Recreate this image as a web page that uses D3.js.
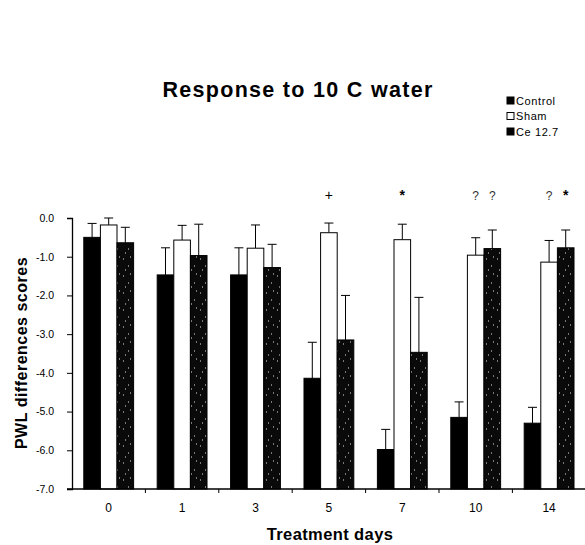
<!DOCTYPE html>
<meta charset="utf-8">
<script src="https://d3js.org/d3.v7.min.js"></script>
<style>
  body { margin: 0; background: #fff; }
  svg { font-family: "Liberation Sans", Arial, sans-serif; }
</style>
<body>
<div id="chart"></div>
<script>
// values
var days = ["0", "1", "3", "5", "7", "10", "14"];
var series = ["Control", "Sham", "Ce 12.7"];
var control = [-0.5, -1.47, -1.47, -4.14, -5.98, -5.15, -5.3];
var controlErr = [0.36, 0.7, 0.7, 0.93, 0.52, 0.4, 0.41];
var sham = [-0.18, -0.57, -0.78, -0.38, -0.56, -0.96, -1.14];
var shamErr = [0.18, 0.38, 0.6, 0.25, 0.4, 0.45, 0.56];
var ce = [-0.64, -0.97, -1.28, -3.15, -3.47, -0.79, -0.77];
var ceErr = [0.4, 0.81, 0.6, 1.15, 1.42, 0.48, 0.46];
var yTicks = [0, -1, -2, -3, -4, -5, -6, -7];
// significance marks: [day index, series index, symbol]
var marks = [[3, 1, "+"], [4, 1, "*"], [5, 1, "?"], [5, 2, "?"], [6, 1, "?"], [6, 2, "*"]];

var width = 585, height = 545;
var svg = d3.select("#chart").append("svg")
    .attr("width", width)
    .attr("height", height);

// sparse speckled fill for the Ce bars
var pat = svg.append("defs").append("pattern")
    .attr("id", "speckle")
    .attr("patternUnits", "userSpaceOnUse")
    .attr("width", 11).attr("height", 17);
pat.append("rect").attr("width", 11).attr("height", 17).attr("fill", "#0a0a0a");
[[2, 3], [7, 10], [4, 14], [9, 1]].forEach(function(p) {
  pat.append("rect").attr("x", p[0]).attr("y", p[1])
      .attr("width", 1).attr("height", 2)
      .attr("fill", "#fff").attr("opacity", 0.45);
});

var x = d3.scaleBand().domain(days).range([72, 585.8]).padding(0);
var xs = d3.scaleBand().domain(series).range([0, x.bandwidth()]).paddingInner(0).paddingOuter(0.71);
var y = d3.scaleLinear().domain([-7, 0]).range([489, 218]);

var fills = ["#000", "#fff", "url(#speckle)"];
var vals = [control, sham, ce];
var errs = [controlErr, shamErr, ceErr];

var rows = [];
days.forEach(function(d, i) {
  series.forEach(function(s, j) {
    rows.push({day: d, s: s, j: j, v: vals[j][i], e: errs[j][i]});
  });
});

// error bars (cap only above the bar)
var eb = svg.append("g").attr("stroke", "#000").attr("stroke-width", 1);
rows.forEach(function(r) {
  var cx = x(r.day) + xs(r.s) + xs.bandwidth() / 2;
  eb.append("line").attr("x1", cx).attr("x2", cx)
      .attr("y1", y(r.v)).attr("y2", y(r.v + r.e));
  eb.append("line").attr("x1", cx - 4.5).attr("x2", cx + 4.5)
      .attr("y1", y(r.v + r.e)).attr("y2", y(r.v + r.e));
});

// bars
svg.append("g").selectAll("rect")
  .data(rows)
  .join("rect")
    .attr("x", function(d) { return x(d.day) + xs(d.s); })
    .attr("width", xs.bandwidth())
    .attr("y", function(d) { return y(d.v); })
    .attr("height", function(d) { return y(-7) - y(d.v); })
    .attr("fill", function(d) { return fills[d.j]; })
    .attr("stroke", "#000")
    .attr("stroke-width", 1);

// y axis (plain hyphen minus like the original)
var yAxis = svg.append("g")
    .attr("transform", "translate(72,0)")
    .call(d3.axisLeft(y).tickValues(yTicks).tickSize(5).tickPadding(13)
      .tickFormat(function(d) { return d.toFixed(1); }));
yAxis.select(".domain").attr("stroke", "#000").attr("stroke-width", 1.3);
yAxis.selectAll("text").attr("font-size", 10.5).attr("fill", "#000");

// x axis: boundary ticks
var xAxis = svg.append("g").attr("transform", "translate(0,489)");
xAxis.append("line").attr("x1", 67).attr("x2", 585).attr("stroke", "#000").attr("stroke-width", 1.3);
xAxis.selectAll("line.tk")
  .data(days.slice(1))
  .join("line")
    .attr("class", "tk")
    .attr("x1", function(d) { return x(d); })
    .attr("x2", function(d) { return x(d); })
    .attr("y1", 0).attr("y2", 4)
    .attr("stroke", "#000");
xAxis.selectAll("text")
  .data(days)
  .join("text")
    .attr("x", function(d) { return x(d) + x.bandwidth() / 2; })
    .attr("y", 23)
    .attr("text-anchor", "middle")
    .attr("font-size", 12)
    .text(function(d) { return d; });

// significance marks
svg.append("g").selectAll("text")
  .data(marks)
  .join("text")
    .attr("x", function(m) { return x(days[m[0]]) + xs(series[m[1]]) + xs.bandwidth() / 2; })
    .attr("y", 200)
    .attr("text-anchor", "middle")
    .attr("fill", function(m) { return m[2] === "?" ? "#333" : "#000"; })
    .attr("font-size", function(m) { return m[2] === "?" ? 12 : 14; })
    .attr("font-weight", function(m) { return m[2] === "*" ? "bold" : "normal"; })
    .text(function(m) { return m[2]; });

// titles
svg.append("text")
    .attr("x", 298).attr("y", 97)
    .attr("text-anchor", "middle")
    .attr("font-size", 21.5).attr("font-weight", "bold")
    .attr("letter-spacing", 1.3)
    .text("Response to 10 C water");

svg.append("text")
    .attr("x", 330).attr("y", 540)
    .attr("text-anchor", "middle")
    .attr("font-size", 16.5).attr("font-weight", "bold")
    .attr("letter-spacing", 0.4)
    .text("Treatment days");

svg.append("text")
    .attr("transform", "translate(27,353) rotate(-90)")
    .attr("text-anchor", "middle")
    .attr("font-size", 16).attr("font-weight", "bold")
    .attr("letter-spacing", 0.5)
    .text("PWL differences scores");

// legend
var leg = svg.append("g").attr("transform", "translate(507,97)");
series.forEach(function(s, j) {
  var g = leg.append("g").attr("transform", "translate(0," + (j * 15.5) + ")");
  g.append("rect").attr("width", 7).attr("height", 7)
      .attr("fill", j === 1 ? "#fff" : "#000")
      .attr("stroke", "#000");
  g.append("text").attr("x", 9).attr("y", 7.5)
      .attr("font-size", 11).attr("letter-spacing", 0.6).text(s);
});
</script>
</body>
